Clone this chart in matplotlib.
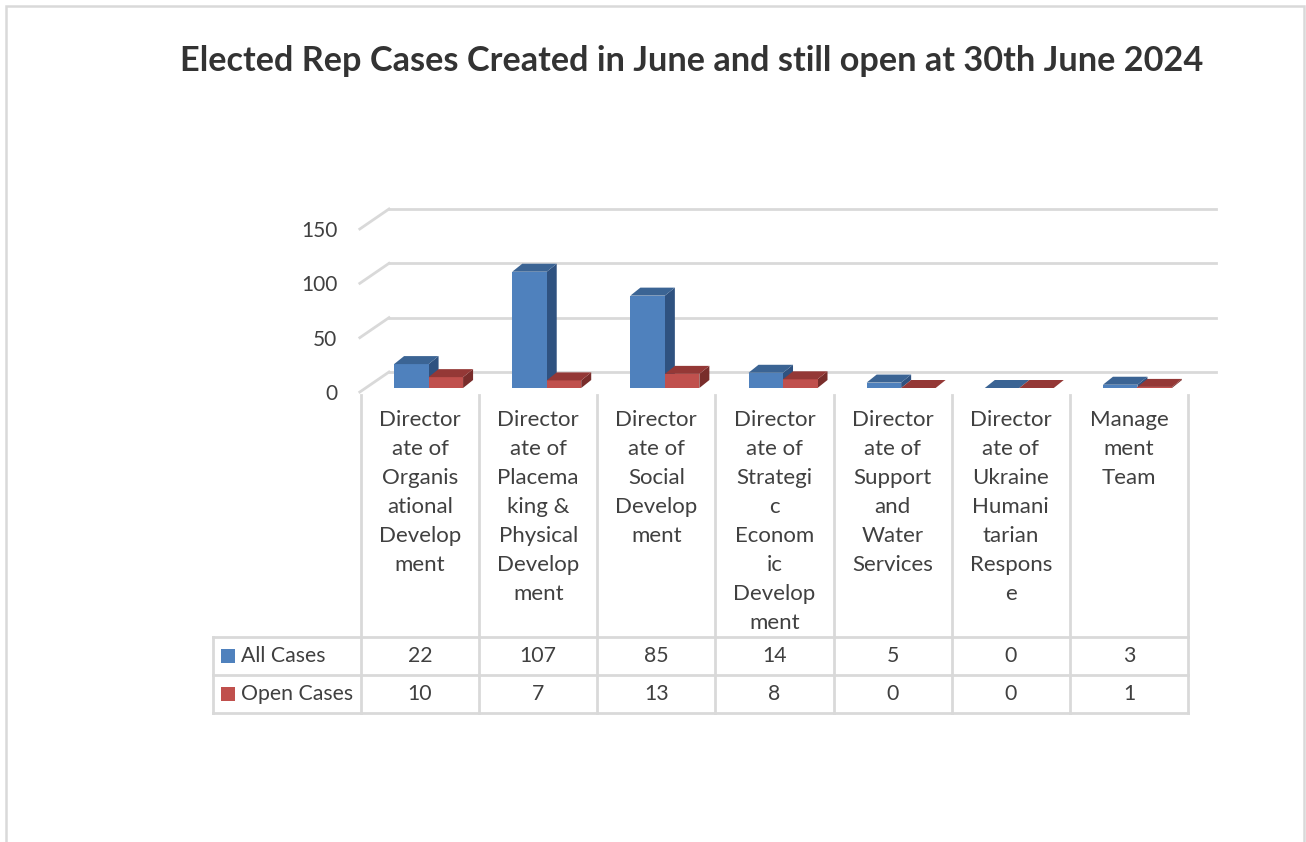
import matplotlib.pyplot as plt
from matplotlib.patches import Polygon, Rectangle
from matplotlib.lines import Line2D
from matplotlib.transforms import blended_transform_factory

plt.rcParams['font.family'] = ['Lato', 'DejaVu Sans']

# Datos
categories = [
    "Director\nate of\nOrganis\national\nDevelop\nment",
    "Director\nate of\nPlacema\nking &\nPhysical\nDevelop\nment",
    "Director\nate of\nSocial\nDevelop\nment",
    "Director\nate of\nStrategi\nc\nEconom\nic\nDevelop\nment",
    "Director\nate of\nSupport\nand\nWater\nServices",
    "Director\nate of\nUkraine\nHumani\ntarian\nRespons\ne",
    "Manage\nment\nTeam",
]
series_names = ["All Cases", "Open Cases"]
all_cases = [22, 107, 85, 14, 5, 0, 3]
open_cases = [10, 7, 13, 8, 0, 0, 1]
yticks = [0, 50, 100, 150]

W, H = 1306, 842
front = ['#4F81BD', '#C0504D']
top = ['#3B6494', '#943836']
side = ['#2F5280', '#792D2B']
grid = '#D9D9D9'
txt = '#404040'

fig = plt.figure(figsize=(W / 100, H / 100), dpi=100)

# Marco exterior
fig.add_artist(Rectangle((6 / W, -0.05), (1304 - 6) / W, 1.05 - 6 / H,
                         fill=False, edgecolor=grid, linewidth=1.8))

ax = fig.add_axes([361 / W, 1 - 392 / H, 827 / W, 163 / H])
ax.set_xlim(0, len(categories))
ax.set_ylim(0, 150)
for s in ax.spines.values():
    s.set_visible(False)
ax.set_xticks([])
ax.set_yticks(yticks)
ax.set_yticklabels([str(t) for t in yticks], fontsize=15, color=txt)
ax.tick_params(axis='y', length=0, pad=17)
ax.patch.set_alpha(0)


def px(dx, dy):
    p0 = ax.transData.transform((0, 0))
    return ax.transData.inverted().transform((p0[0] + dx, p0[1] + dy))


wx, wy = px(28, 20)
ddx, ddy = px(10, 8)
lift = px(0, 4)[1]

# Pared del fondo y lateral
for t in yticks:
    ax.plot([wx, len(categories) + wx], [t + wy, t + wy], color=grid, lw=2, clip_on=False, zorder=1)
    ax.plot([-0.01, wx], [t, t + wy], color=grid, lw=2, clip_on=False, zorder=1)

# Barras con efecto 3D
bw = 0.292
offs = [0.28, 0.28 + bw]
for i in range(len(categories)):
    for k, vals in enumerate([all_cases, open_cases]):
        v = vals[i]
        x0 = i + offs[k]
        x1 = x0 + bw
        ax.bar(x0, v, bw, bottom=lift, align='edge', color=front[k], linewidth=0,
               clip_on=False, zorder=3 + k)
        ax.add_patch(Polygon([(x1, lift), (x1, v + lift), (x1 + ddx, v + lift + ddy), (x1 + ddx, lift + ddy)],
                             closed=True, facecolor=side[k], linewidth=0, clip_on=False, zorder=2 + k))
        ax.add_patch(Polygon([(x0, v + lift), (x1, v + lift), (x1 + ddx, v + lift + ddy), (x0 + ddx, v + lift + ddy)],
                             closed=True, facecolor=top[k], linewidth=0, clip_on=False, zorder=3 + k))

# Etiquetas de categorias y tabla de datos
tr = blended_transform_factory(ax.transData, fig.transFigure)
for i, lab in enumerate(categories):
    ax.text(i + 0.5, 1 - 410 / H, lab, transform=tr, ha='center', va='top',
            fontsize=16, color=txt, linespacing=1.565)
for i in range(len(categories) + 1):
    ax.add_artist(Line2D([i, i], [1 - 395 / H, 1 - 713 / H], transform=tr, color=grid, lw=2, clip_on=False))

for yy in [637, 675, 713]:
    fig.add_artist(Line2D([213 / W, 1188 / W], [1 - yy / H, 1 - yy / H], color=grid, lw=2))
fig.add_artist(Line2D([213 / W, 213 / W], [1 - 637 / H, 1 - 713 / H], color=grid, lw=2))

for r, (name, vals) in enumerate(zip(series_names, [all_cases, open_cases])):
    yc = 1 - (656 + 38 * r) / H
    fig.add_artist(Rectangle((221 / W, yc - 7 / H), 14 / W, 14 / H, facecolor=front[r], linewidth=0))
    fig.text(241 / W, yc, name, ha='left', va='center', fontsize=15.3, color=txt)
    for i, v in enumerate(vals):
        ax.text(i + 0.5, yc, str(v), transform=tr, ha='center', va='center', fontsize=15.3, color=txt)

fig.text(692 / W, 1 - 61 / H, "Elected Rep Cases Created in June and still open at 30th June 2024",
         ha='center', va='center', fontsize=24.7, fontweight='bold', color='#333333')

fig.savefig('out.png', dpi=100)
